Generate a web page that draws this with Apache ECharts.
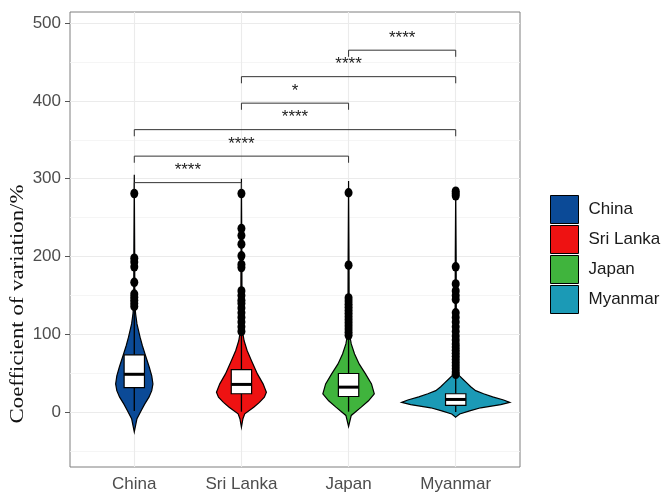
<!DOCTYPE html>
<html>
<head>
<meta charset="utf-8">
<script src="https://cdn.jsdelivr.net/npm/echarts@6/dist/echarts.min.js"></script>
<style>
  html, body { margin: 0; padding: 0; background: #fff; }
  #chart { width: 672px; height: 494px; }
</style>
</head>
<body>
<div id="chart"></div>
<script>
const countries = ['China', 'Sri Lanka', 'Japan', 'Myanmar']
const colors = ['#0b4a97', '#ee1212', '#40b43d', '#1b9ab6']
const yTicks = [0, 100, 200, 300, 400, 500]
const yMinor = [-50, 50, 150, 250, 350, 450]

// violin outlines: [value, half width (category units)]
const chinaViolin = [[-25, 0], [-8, 0.025], [2.6, 0.065], [11, 0.098], [19.7, 0.137], [28, 0.163], [36.7, 0.174], [47, 0.163], [58, 0.14], [75, 0.1], [86, 0.075], [96.6, 0.054], [113.7, 0.025], [127, 0.012], [140, 0.005], [200, 0.004], [305, 0]]
const sriLankaViolin = [[-19, 0], [-8, 0.014], [-1.7, 0.031], [6.8, 0.115], [13, 0.168], [19.6, 0.214], [26, 0.233], [36.7, 0.202], [49.5, 0.149], [66.7, 0.093], [79.5, 0.053], [92, 0.025], [101, 0.014], [120, 0.006], [200, 0.004], [300, 0]]
const japanViolin = [[-18, 0], [-3.8, 0.025], [6.8, 0.118], [15, 0.186], [24, 0.24], [36.7, 0.214], [49.5, 0.158], [62, 0.1], [75, 0.056], [88, 0.025], [96.5, 0.014], [115, 0.006], [200, 0.004], [297, 0]]
const myanmarViolin = [[-6, 0], [-2, 0.037], [2, 0.13], [6, 0.233], [10, 0.42], [13, 0.505], [16, 0.447], [20, 0.345], [24, 0.26], [28, 0.186], [33, 0.14], [38, 0.103], [43, 0.065], [48, 0.028], [60, 0.014], [100, 0.006], [200, 0.004], [289, 0]]
const violins = [chinaViolin, sriLankaViolin, japanViolin, myanmarViolin]

const boxQ1 = [32, 24, 20.5, 9]
const boxMedian = [49, 36, 32.5, 16.7]
const boxQ3 = [74, 55, 50, 24]
const whiskerLow = [2, 1, 1, 0.5]
const whiskerHigh = [132, 100, 96, 46]

const chinaOutliers = [281, 198, 193, 187, 167, 152, 148, 144, 140, 136]
const sriLankaOutliers = [281, 236, 227, 216, 201, 190, 186, 156, 150, 144, 140, 134, 128, 122, 116, 110, 104]
const japanOutliers = [282, 189, 147, 143, 139, 135, 131, 127, 123, 119, 115, 111, 107, 103, 99]
const myanmarOutliers = [284, 281, 278, 187, 165, 156, 150, 145, 128, 122, 116, 110, 104, 98, 93, 88, 84, 80, 76, 72, 68, 64, 60, 56, 52, 49]
const outliers = [chinaOutliers, sriLankaOutliers, japanOutliers, myanmarOutliers]

// significance brackets
const bracketFrom = [1, 1, 1, 2, 2, 3]
const bracketTo = [2, 3, 4, 3, 4, 4]
const bracketY = [295, 329, 363, 397, 431, 465]
const bracketLabel = ['****', '****', '****', '*', '****', '****']

const tipLen = 8.5
const boxHalf = 0.095

const chart = echarts.init(document.getElementById('chart'))

const violinRender = (idx) => (params, api) => {
  const cx = idx + 1
  const prof = violins[idx]
  const right = prof.map(p => api.coord([cx + p[1], p[0]]))
  const left = prof.slice().reverse().map(p => api.coord([cx - p[1], p[0]]))
  const q1 = api.coord([cx, boxQ1[idx]])
  const q3 = api.coord([cx, boxQ3[idx]])
  const med = api.coord([cx, boxMedian[idx]])
  const lo = api.coord([cx, whiskerLow[idx]])
  const hi = api.coord([cx, whiskerHigh[idx]])
  const bl = api.coord([cx - boxHalf, 0])[0]
  const br = api.coord([cx + boxHalf, 0])[0]
  return {
    type: 'group',
    children: [
      { type: 'polygon', shape: { points: right.concat(left) }, style: { fill: colors[idx], stroke: '#000', lineWidth: 1.2 } },
      { type: 'line', shape: { x1: lo[0], y1: lo[1], x2: hi[0], y2: hi[1] }, style: { stroke: '#000', lineWidth: 1.3 } },
      { type: 'rect', shape: { x: bl, y: q3[1], width: br - bl, height: q1[1] - q3[1] }, style: { fill: '#fff', stroke: '#000', lineWidth: 1.2 } },
      { type: 'line', shape: { x1: bl, y1: med[1], x2: br, y2: med[1] }, style: { stroke: '#000', lineWidth: 3 } }
    ]
  }
}

const bracketRender = (params, api) => {
  const i = params.dataIndex
  const a = api.coord([bracketFrom[i], bracketY[i]])
  const b = api.coord([bracketTo[i], bracketY[i]])
  const ta = api.coord([bracketFrom[i], bracketY[i] - tipLen])
  const tb = api.coord([bracketTo[i], bracketY[i] - tipLen])
  return {
    type: 'group',
    children: [
      { type: 'polyline', shape: { points: [ta, a, b, tb] }, style: { stroke: '#333', lineWidth: 1, fill: null } },
      {
        type: 'text',
        style: {
          x: (a[0] + b[0]) / 2, y: a[1] - 12, text: bracketLabel[i],
          align: 'center', verticalAlign: 'middle',
          font: '17px "Liberation Sans", Arial, sans-serif', fill: '#222'
        }
      }
    ]
  }
}

const gridLines = []
yTicks.forEach(v => gridLines.push({ yAxis: v, lineStyle: { color: '#ebebeb', width: 1.1, type: 'solid' } }))
yMinor.forEach(v => gridLines.push({ yAxis: v, lineStyle: { color: '#f2f2f2', width: 0.8, type: 'solid' } }))
countries.forEach((c, i) => gridLines.push({ xAxis: i + 1, lineStyle: { color: '#ebebeb', width: 1.1, type: 'solid' } }))

const series = [
  {
    type: 'line',
    data: [],
    z: 0,
    silent: true,
    markLine: { z: 0, symbol: 'none', silent: true, animation: false, label: { show: false }, lineStyle: { type: 'solid' }, data: gridLines }
  }
]

countries.forEach((name, i) => {
  series.push({
    name,
    type: 'custom',
    z: 2,
    itemStyle: { color: colors[i], borderColor: '#000', borderWidth: 1 },
    renderItem: violinRender(i),
    encode: { x: 0, y: 1 },
    data: [[i + 1, boxMedian[i]]]
  })
})

outliers.forEach((vals, i) => {
  series.push({
    type: 'scatter',
    z: 4,
    symbolSize: [8, 9.5],
    itemStyle: { color: '#000', opacity: 1 },
    data: vals.map(v => [i + 1, v])
  })
})

series.push({
  type: 'custom',
  z: 5,
  renderItem: bracketRender,
  encode: { x: 0, y: 1 },
  data: bracketY.map((y, i) => [(bracketFrom[i] + bracketTo[i]) / 2, y])
})

const option = {
  animation: false,
  grid: { left: 70, right: 152, top: 12, bottom: 27, show: true, borderColor: '#7f7f7f', borderWidth: 1, backgroundColor: 'transparent' },
  legend: {
    data: countries,
    orient: 'vertical',
    left: 545,
    top: 190,
    icon: 'rect',
    itemWidth: 28,
    itemHeight: 28,
    itemGap: 1,
    itemStyle: { borderColor: '#000', borderWidth: 1 },
    textStyle: { fontFamily: 'Liberation Sans', fontSize: 17, color: '#1a1a1a', padding: [0, 0, 0, 5] }
  },
  xAxis: {
    type: 'value',
    min: 0.4,
    max: 4.6,
    axisLine: { show: false },
    splitLine: { show: false },
    axisTick: { show: true, length: 5, customValues: [1, 2, 3, 4], lineStyle: { color: '#555' } },
    axisLabel: {
      customValues: [1, 2, 3, 4],
      formatter: v => countries[Math.round(v) - 1],
      fontFamily: 'Liberation Sans', fontSize: 17, color: '#4d4d4d', margin: 9
    }
  },
  yAxis: {
    type: 'value',
    min: -70,
    max: 514,
    axisLine: { show: false },
    splitLine: { show: false },
    axisTick: { show: true, length: 5, customValues: yTicks, lineStyle: { color: '#555' } },
    axisLabel: {
      customValues: yTicks,
      fontFamily: 'Liberation Sans', fontSize: 17, color: '#4d4d4d', margin: 9
    }
  },
  graphic: [
    {
      type: 'text',
      x: 18,
      y: 304,
      rotation: Math.PI / 2,
      scaleX: 1.2,
      style: {
        text: 'Coefficient of variation/%',
        font: '19px "Liberation Serif", "Times New Roman", serif',
        fill: '#111',
        align: 'center',
        verticalAlign: 'middle'
      }
    }
  ],
  series
}

chart.setOption(option)
</script>
</body>
</html>
